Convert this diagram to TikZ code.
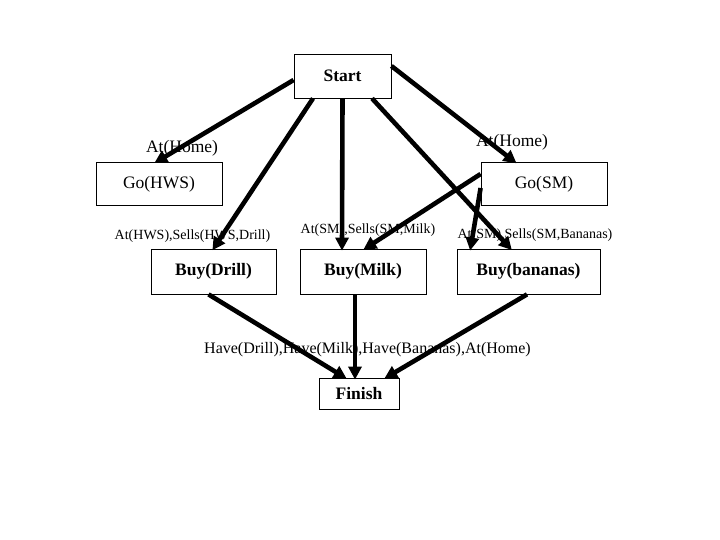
\documentclass[tikz,border=0pt]{standalone}
\usepackage{fontspec}
\setmainfont{Liberation Serif}
\usetikzlibrary{arrows.meta,positioning,calc}

\begin{document}
\begin{tikzpicture}[x=1pt,y=-1pt,
    act/.style={draw,line width=0.8pt,inner sep=0pt,font=\fontsize{17.5}{20}\selectfont},
    cond/.style={inner sep=0pt,font=\fontsize{14}{16}\selectfont}]
            \useasboundingbox[fill=white] (0,0) rectangle (720,540);

            \node[act,minimum width=97pt,minimum height=44pt] (start) at (342.5,76) {\textbf{Start}};
            \node[act,minimum width=126pt,minimum height=43pt] (gohws) at (159,184) {Go(HWS)};
            \node[act,minimum width=126pt,minimum height=43pt] (gosm)  at (544,184) {Go(SM)};
            \node[act,minimum width=125pt,minimum height=45pt] (drill) at (213.5,271.5) {\textbf{Buy(Drill)}};
            \node[act,minimum width=126pt,minimum height=45pt] (milk)  at (363,271.5) {\textbf{Buy(Milk)}};
            \node[act,minimum width=143pt,minimum height=45pt] (banana) at (528.5,271.5) {\textbf{Buy(bananas)}};
            \node[act,minimum width=80pt,minimum height=31pt] (finish) at (359,393.5) {\textbf{Finish}};

            \node[act,draw=none,minimum width=0pt,minimum height=0pt] (athome1) at (182,148) {At(Home)};
            \node[act,draw=none,minimum width=0pt,minimum height=0pt] (athome2) at (512,142) {At(Home)};
            \node[cond] (sellsdrill)  at (192.5,236) {At(HWS),Sells(HWS,Drill)};
            \node[cond] (sellsmilk)   at (368,230) {At(SM),Sells(SM,Milk)};
            \node[cond] (sellsbanana) at (535,235) {At(SM),Sells(SM,Bananas)};
            \node[inner sep=0pt,font=\fontsize{16}{18}\selectfont] (goal) at (367.5,350) {Have(Drill),Have(Milk),Have(Bananas),At(Home)};

            \begin{scope}[line width=4.6pt,-{Triangle[length=13pt,width=13pt]},shorten >=-2pt]
                \draw ([yshift=-4pt]start.west) -- ([xshift=-3pt]gohws.north);
                \draw ([xshift=-29.5pt]start.south) -- (drill.north);
                \draw (start.south) -- ([xshift=-21pt]milk.north);
                \draw ([xshift=29.5pt]start.south) -- ([xshift=-18pt]banana.north);
                \draw ([yshift=10pt]start.east) -- ([xshift=-29pt]gosm.north);
                \draw ([yshift=10pt]gosm.west) -- ([xshift=2pt]milk.north);
                \draw ([yshift=-4pt]gosm.west) -- ([xshift=-58pt]banana.north);
                \draw ([xshift=-5pt]drill.south) -- ([xshift=-14pt]finish.north);
                \draw ([xshift=-8pt]milk.south) -- ([xshift=-4pt]finish.north);
                \draw ([xshift=-1.5pt]banana.south) -- ([xshift=27pt]finish.north);
            \end{scope}
        \end{tikzpicture}
\end{document}
